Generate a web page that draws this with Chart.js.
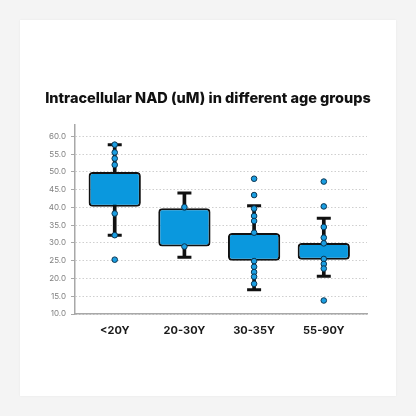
<!DOCTYPE html>
<html>
<head>
<meta charset="utf-8">
<script src="https://cdn.jsdelivr.net/npm/chart.js@4.4.1/dist/chart.umd.min.js"></script>
<style>
  html, body { margin: 0; padding: 0; background: #f4f4f4; }
  .card {
    position: absolute; left: 20px; top: 20px;
    width: 376px; height: 376px;
    background: #fff;
    box-shadow: 0 0 2px rgba(0, 0, 0, 0.06);
  }
</style>
</head>
<body>
<div class="card"><canvas id="boxChart"></canvas></div>
<script>
const categories = ["<20Y", "20-30Y", "30-35Y", "55-90Y"];
const q1 = [40.2, 29.0, 25.0, 25.3];
const q3 = [50.0, 39.8, 32.8, 30.0];
const whiskerLow = [32.2, 26.0, 16.8, 20.6];
const whiskerHigh = [57.7, 44.1, 40.5, 37.0];
const samples = [
  [57.7, 55.5, 53.8, 52.0, 38.3, 32.2, 25.3],
  [40.1, 29.0],
  [48.1, 43.5, 39.7, 37.6, 36.2, 32.9, 24.9, 23.3, 21.8, 20.5, 18.5],
  [47.3, 40.3, 34.5, 31.5, 29.9, 25.5, 24.1, 22.8, 13.8],
];
const yTicks = [10, 15, 20, 25, 30, 35, 40, 45, 50, 55, 60];

document.addEventListener("DOMContentLoaded", function () {
  const ctx = document.getElementById("boxChart").getContext("2d");

  // box = floating bar Q1..Q3, whisker = thin floating bar
  const boxData = categories.map((c, i) => ({ x: i, y: [q1[i], q3[i]] }));
  const whiskerData = categories.map((c, i) => ({ x: i, y: [whiskerLow[i], whiskerHigh[i]] }));
  const capData = [];
  categories.forEach((c, i) => {
    capData.push({ x: i, y: whiskerLow[i] });
    capData.push({ x: i, y: whiskerHigh[i] });
  });
  const dotData = [];
  samples.forEach((list, i) => {
    list.forEach((v) => dotData.push({ x: i, y: v }));
  });

  new Chart(ctx, {
    type: "bar",
    data: {
      datasets: [
        {
          type: "scatter",
          data: dotData,
          backgroundColor: "#1a9ee2",
          borderColor: "#0c3550",
          borderWidth: 1,
          pointRadius: 2.8,
          order: 0,
        },
        {
          type: "scatter",
          data: capData,
          pointStyle: "line",
          pointRadius: 7,
          borderColor: "#111",
          borderWidth: 3,
          order: 1,
        },
        {
          data: boxData,
          backgroundColor: "#0a98de",
          borderColor: "#111",
          borderWidth: 2,
          borderRadius: 4,
          borderSkipped: false,
          grouped: false,
          categoryPercentage: 1,
          barPercentage: 0.75,
          order: 2,
        },
        {
          data: whiskerData,
          backgroundColor: "#111",
          borderWidth: 0,
          grouped: false,
          barThickness: 3,
          order: 3,
        },
      ],
    },
    options: {
      responsive: true,
      maintainAspectRatio: false,
      animation: false,
      layout: { padding: 0 },
      plugins: {
        legend: { display: false },
        tooltip: { enabled: false },
        title: {
          display: true,
          text: "Intracellular NAD (uM) in different age groups",
          color: "#111",
          font: { family: "Inter", size: 14.5, weight: "800" },
          padding: { top: 70, bottom: 17 },
        },
      },
      scales: {
        x: {
          type: "linear",
          offset: false,
          min: -0.57,
          max: 3.62,
          grid: { display: false, drawTicks: false },
          border: { display: true, color: "#a8a8a8", width: 1.5 },
          afterBuildTicks: (scale) => {
            scale.ticks = categories.map((c, i) => ({ value: i }));
          },
          ticks: {
            padding: 10,
            color: "#1a1a1a",
            font: { family: "Inter", size: 11, weight: "bold" },
            callback: (v) => categories[v],
          },
          afterFit: (scale) => { scale.height = 82; },
        },
        y: {
          min: 10,
          max: 63.4,
          afterBuildTicks: (scale) => {
            scale.ticks = yTicks.map((v) => ({ value: v }));
          },
          grid: { color: "#cfcfcf", lineWidth: 1, tickLength: 4, tickColor: "#a8a8a8" },
          border: { display: true, color: "#a8a8a8", width: 1.5, dash: [1.5, 2] },
          ticks: {
            padding: 5,
            color: "#808080",
            font: { family: "Inter", size: 8 },
            callback: (v) => v.toFixed(1),
          },
          afterFit: (scale) => { scale.width = 55; },
        },
        // empty right gutter so the title centres on the card
        yRight: {
          position: "right",
          grid: { display: false, drawTicks: false },
          border: { display: false },
          ticks: { display: false },
          afterFit: (scale) => { scale.width = 29; },
        },
      },
    },
  });
});
</script>
</body>
</html>
